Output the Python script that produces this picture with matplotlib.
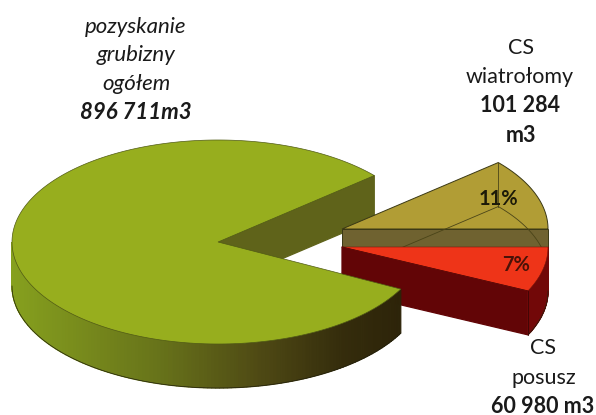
import numpy as np
import matplotlib
matplotlib.use("Agg")
import matplotlib.pyplot as plt
from matplotlib.patches import Polygon
from matplotlib.colors import LinearSegmentedColormap

# data
volumes = [734447, 101284, 60980]   # rest, wiatrołomy, posusz
percent_labels = ["11%", "7%"]

plt.rcParams['font.family'] = ['Lato', 'DejaVu Sans']
fig = plt.figure(figsize=(5.96, 4.15), dpi=100)
ax = fig.add_axes([0, 0, 1, 1])
ax.set_xlim(0, 596)
ax.set_ylim(415, 0)
ax.axis('off')

RX, RY, DEPTH = 206, 102, 44
total = sum(volumes)
sweep = [v / total * 360 for v in volumes]
post_a0 = -sweep[2] - 1
wiat_a0, wiat_a1 = 0, sweep[1]
main_a0, main_a1 = wiat_a1, 360 + post_a0 - 2
EDGE = '#3a3814'


def arc(cx, cy, a0, a1, n=120):
    t = np.radians(np.linspace(a0, a1, n))
    return np.column_stack([cx + RX * np.cos(t), cy - RY * np.sin(t)])


def poly(points, color, z, edge=None, lw=0.0, **kw):
    ax.add_patch(Polygon(points, closed=True, facecolor=color, zorder=z,
                         edgecolor=edge if edge else color,
                         linewidth=lw if edge else 0.9, **kw))


def side(cx, cy, a0, a1, cmap, z, n=140):
    angs = np.linspace(a0, a1, n + 1)
    for i in range(n):
        seg = arc(cx, cy, angs[i], angs[i + 1], 3)
        quad = np.vstack([seg, seg[::-1] + [0, DEPTH]])
        c = cmap((seg[1, 0] - cx + RX) / (2 * RX))
        poly(quad, c, z)
    low = arc(cx, cy, a0, a1, 200) + [0, DEPTH]
    ax.plot(low[:, 0], low[:, 1], color='#22200c', lw=0.5, zorder=z + 0.1)


# main slice: upper cut wall
cx, cy = 218, 242
end_top = arc(cx, cy, main_a0, main_a0, 1)[0]
apex = np.array([cx, cy])
poly([apex, end_top, end_top + [0, DEPTH], apex + [0, DEPTH]], '#5f631a', 1)

# wiatrołomy slice
wx, wy = 342, 229
wapex = np.array([wx, wy])
wtop = arc(wx, wy, wiat_a0, wiat_a1)
wright = wtop[0]
wend = wtop[-1]
poly(np.vstack([wapex, wtop]), '#b19d35', 2, edge=EDGE, lw=0.7)
poly([wapex, wright, wright + [0, DEPTH], wapex + [0, DEPTH]], '#6f6230', 3, edge=EDGE, lw=0.7)
wlow = arc(wx, wy, wiat_a0, wiat_a1) + [0, DEPTH]
ax.plot(wlow[:, 0], wlow[:, 1], color='#4a4418', lw=0.6, zorder=3.2)
ax.plot([wapex[0], wend[0]], [wapex[1] + DEPTH, wend[1] + DEPTH],
        color='#4a4418', lw=0.6, zorder=3.2)
ax.plot([wend[0], wend[0]], [wend[1], wend[1] + DEPTH],
        color='#4a4418', lw=0.6, zorder=3.2)

# posusz slice
px, py = 342, 247
papex = np.array([px, py])
ptop = arc(px, py, post_a0, 0)
pend = ptop[0]
poly([papex, pend, pend + [0, DEPTH], papex + [0, DEPTH]], '#620506', 4)
red_side = LinearSegmentedColormap.from_list('rs', ['#720808', '#720808'])
side(px, py, post_a0, 0, red_side, 4.2, n=30)
poly(np.vstack([papex, ptop]), '#ee3418', 4.5, edge='#7a1508', lw=0.4)
ax.plot([pend[0], pend[0]], [pend[1], pend[1] + DEPTH], color='#3a0505', lw=0.6, zorder=4.6)
ax.plot([px, pend[0]], [py, pend[1]], color='#5a0606', lw=0.6, zorder=4.6)

# main slice: outer wall and top
wall = LinearSegmentedColormap.from_list(
    'wall', [(0, '#86a01e'), (0.35, '#68741a'), (0.6, '#4f4a14'), (0.8, '#352d0c'), (1, '#2a2008')])
side(cx, cy, 180, main_a1, wall, 5)
mtop = arc(cx, cy, main_a0, main_a1, 300)
poly(np.vstack([apex, mtop]), '#97ae1e', 6, edge='#505a14', lw=0.5)

# percentage labels
ax.text(498, 199, percent_labels[0], ha='center', va='center', fontsize=14.5, weight='bold', color='#1c1a08', zorder=8)
ax.text(516, 265, percent_labels[1], ha='center', va='center', fontsize=14.5, weight='bold', color='#4a1208', zorder=8)

# category labels
for y, s, kw in [(27, 'pozyskanie', dict(style='italic')),
                 (55, 'grubizny', dict(style='italic')),
                 (84, 'ogółem', dict(style='italic')),
                 (112, '896 711m3', dict(style='italic', weight='bold'))]:
    ax.text(136, y, s, ha='center', va='center', fontsize=16, color='#1a1a1a', **kw)
for x, y, s, kw in [(521, 48, 'CS', {}), (520, 77, 'wiatrołomy', {}),
                    (520, 105, '101 284', dict(weight='bold')), (521, 135, 'm3', dict(weight='bold')),
                    (543, 348, 'CS', {}), (544, 378, 'posusz', {}),
                    (543, 406, '60 980 m3', dict(weight='bold'))]:
    ax.text(x, y, s, ha='center', va='center', fontsize=15.5, color='#1a1a1a', **kw)

fig.savefig('out.png', dpi=100, facecolor='white')
